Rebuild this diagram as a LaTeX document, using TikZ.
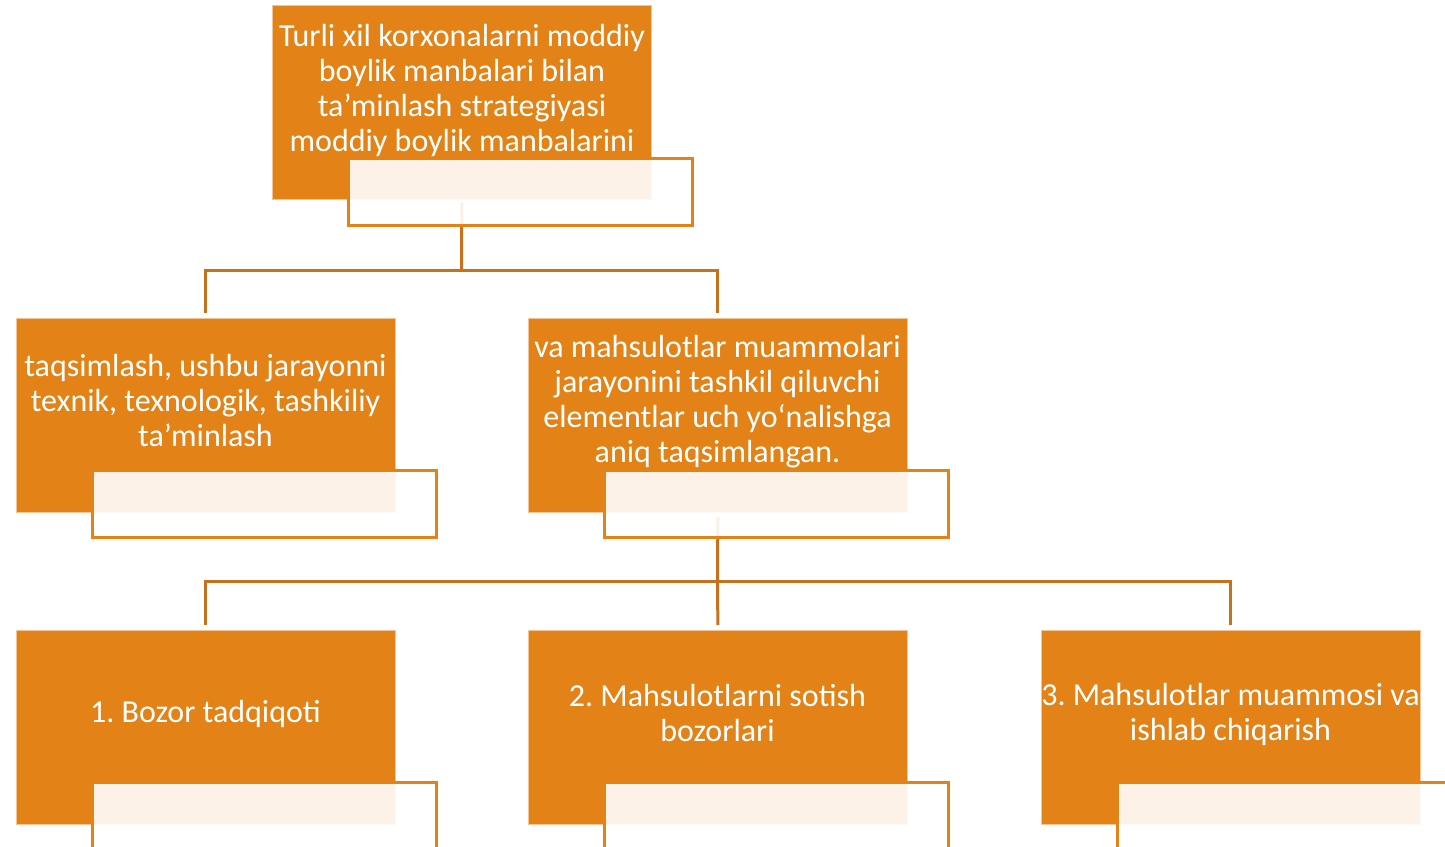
\documentclass[tikz,border=0pt]{standalone}
\usepackage{fontspec}
\setmainfont{Carlito}
\frenchspacing
\definecolor{org}{RGB}{227,130,22}
\definecolor{lnk}{RGB}{198,114,28}
\definecolor{edge}{RGB}{242,196,150}
\begin{document}
\begin{tikzpicture}[x=1pt,y=-1pt,
  box/.style={draw=edge, line width=0.8pt, fill=org, minimum width=379pt, minimum height=194pt, anchor=north west, inner sep=0pt},
  over/.style={draw=org, line width=2.8pt, fill=white, fill opacity=0.9, minimum width=344pt, minimum height=67pt, anchor=north west, inner sep=0pt},
  txt/.style={text=white, align=center, font=\fontsize{32}{35}\selectfont, inner sep=0pt},
  link/.style={draw=lnk, line width=3pt}]
\useasboundingbox (0,0) rectangle (1445,846);
\clip (0,0) rectangle (1445,846);
% orange boxes
\node[box] (t) at (272,5) {};
\node[box] (l) at (16,318) {};
\node[box] (m) at (528,318) {};
\node[box] (b1) at (16,630) {};
\node[box] (b2) at (528,630) {};
\node[box] (b3) at (1041,630) {};
% texts
\node[txt] (tt) at (462,90.5) {Turli xil korxonalarni moddiy\\boylik manbalari bilan\\ta’minlash strategiyasi\\moddiy boylik manbalarini};
\node[txt] (lt) at (205.5,400.5) {taqsimlash, ushbu jarayonni\\texnik, texnologik, tashkiliy\\ta’minlash};
\node[txt] (mt) at (717.5,402) {va mahsulotlar muammolari\\jarayonini tashkil qiluvchi\\elementlar uch yo‘nalishga\\aniq taqsimlangan.};
\node[txt] (b1t) at (205.5,714) {1. Bozor tadqiqoti};
\node[txt] (b2t) at (717.5,713) {2. Mahsulotlarni sotish\\bozorlari};
\node[txt] (b3t) at (1230.5,714) {3. Mahsulotlar muammosi va\\ishlab chiqarish};
% connectors
\coordinate (j1) at (461.5,270);
\coordinate (j2) at (717.5,581);
\draw[link, shorten <=3pt] (t.south) -- (j1);
\draw[link, shorten >=5pt] (j1) -| (l.north);
\draw[link, shorten >=5pt] (j1) -| (m.north);
\draw[link, shorten <=4pt] (m.south) -- (j2);
\draw[link, shorten >=5pt] (j2) -| (b1.north);
\draw[link, shorten >=5pt] (j2) -- (b2.north);
\draw[link, shorten >=5pt] (j2) -| (b3.north);
% overlay boxes
\node[over] (to) at (347,157) {};
\node[over] (lo) at (91,469) {};
\node[over] (mo) at (603,469) {};
\node[over] (b1o) at (91,781) {};
\node[over] (b2o) at (603,781) {};
\node[over] (b3o) at (1116,781) {};
\end{tikzpicture}
\end{document}
